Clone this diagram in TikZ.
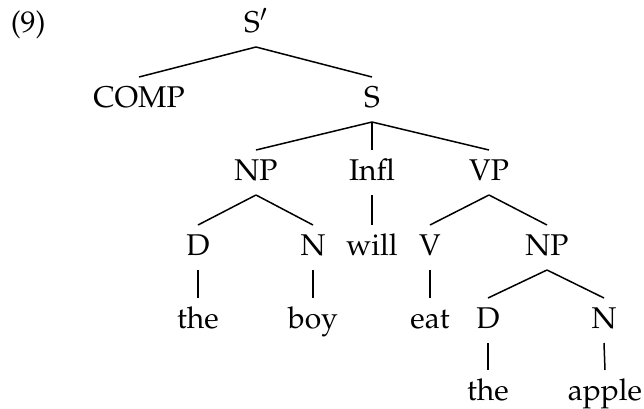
\documentclass[tikz,border=0pt]{standalone}
\usepackage[T1]{fontenc}
\usepackage{mathpazo}
\usepackage{tikz}
\usetikzlibrary{positioning}

\tikzset{cat/.style={anchor=base,inner sep=0pt,font=\fontsize{15}{18}\selectfont}}
\newcommand{\Branch}[2]{\draw ([yshift=-7.5pt]#1.base) -- ([yshift=15pt]#2.base);}

\begin{document}
\begin{tikzpicture}[x=0.5pt,y=-0.5pt,line width=0.75pt]
\useasboundingbox (0,0) rectangle (644,408);
\node[cat,anchor=base west] (ex) at (10,32) {(9)};
	\node[cat] (Sbar) at (256,32) {S$'$};
	\node[cat] (COMP) at (139,107) {COMP};
	\node[cat] (S) at (372,107) {S};
	\node[cat] (NP) at (256,180) {NP};
	\node[cat] (Infl) at (372,180) {Infl};
	\node[cat] (VP) at (489,180) {VP};
	\node[cat] (D) at (198,255) {D};
	\node[cat] (N) at (313,255) {N};
	\node[cat] (will) at (372,255) {will};
	\node[cat] (V) at (430,255) {V};
	\node[cat] (NPo) at (547,255) {NP};
	\node[cat] (the) at (198,328) {the};
	\node[cat] (boy) at (313,328) {boy};
	\node[cat] (eat) at (430,328) {eat};
	\node[cat] (Do) at (488,328) {D};
	\node[cat] (No) at (604,328) {N};
	\node[cat] (theo) at (488,400) {the};
	\node[cat] (apple) at (605,400) {apple};

	\Branch{Sbar}{COMP}
	\Branch{Sbar}{S}
	\Branch{S}{NP}
	\Branch{S}{Infl}
	\Branch{S}{VP}
	\Branch{NP}{D}
	\Branch{NP}{N}
	\Branch{Infl}{will}
	\Branch{VP}{V}
	\Branch{VP}{NPo}
	\Branch{D}{the}
	\Branch{N}{boy}
	\Branch{V}{eat}
	\Branch{NPo}{Do}
	\Branch{NPo}{No}
	\Branch{Do}{theo}
	\Branch{No}{apple}
\end{tikzpicture}
\end{document}
